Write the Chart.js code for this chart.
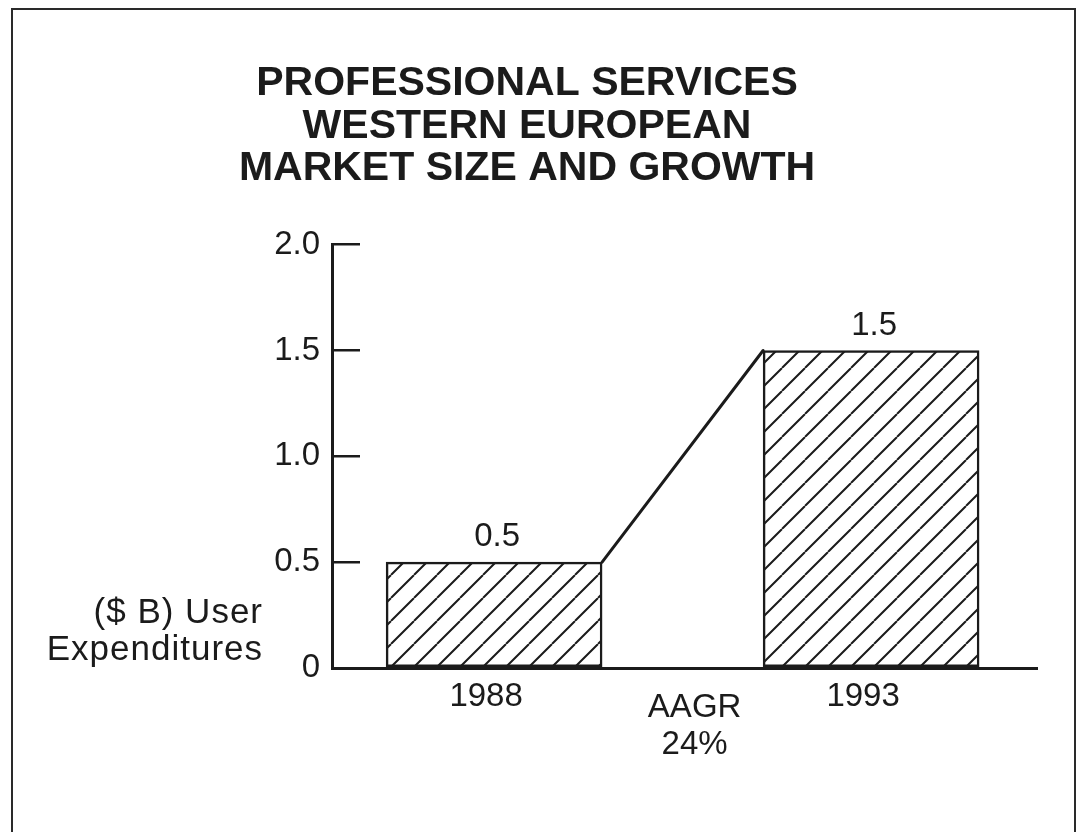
<!DOCTYPE html>
<html>
<head>
<meta charset="utf-8">
<script src="https://cdn.jsdelivr.net/npm/chart.js@4.4.1/dist/chart.umd.min.js"></script>
<style>
  html, body { margin: 0; padding: 0; background: #fff; }
  #wrap { width: 1080px; height: 832px; }
</style>
</head>
<body>
<div id="wrap"><canvas id="marketChart" width="1080" height="832"></canvas></div>
<script>
// chart data
const titleLines = ['PROFESSIONAL SERVICES', 'WESTERN EUROPEAN', 'MARKET SIZE AND GROWTH'];
const years = ['1988', '1993'];
const spendBillions = [0.5, 1.5];
const yTicks = [0, 0.5, 1.0, 1.5, 2.0];
const yAxisLabel = ['($ B) User', 'Expenditures'];
const growthLabel = ['AAGR', '24%'];

const ink = '#1b1b1b';
const fontFamily = '"Liberation Sans", Arial, Helvetica, sans-serif';

// years sit on slots 0 and 2, the growth note sits in slot 1 between them
const slotOf = i => i * 2;

// diagonal hatch fill for the bars
function makeHatch() {
	const size = 23;
	const c = document.createElement('canvas');
	c.width = size;
	c.height = size;
	const g = c.getContext('2d');
	g.fillStyle = '#ffffff';
	g.fillRect(0, 0, size, size);
	g.strokeStyle = ink;
	g.lineWidth = 2;
	g.beginPath();
	[-size, 0, size].forEach(function(o) {
		g.moveTo(o, size);
		g.lineTo(o + size, 0);
	});
	g.stroke();
	return g.createPattern(c, 'repeat');
}

// page frame
const framePlugin = {
	id: 'frame',
	beforeDraw(chart) {
		const c = chart.ctx;
		c.save();
		c.fillStyle = '#ffffff';
		c.fillRect(0, 0, chart.width, chart.height);
		c.strokeStyle = '#2a2a2a';
		c.lineWidth = 2;
		c.strokeRect(12, 9, chart.width - 17, chart.height + 20);
		c.restore();
	}
};

// line joining the top right corner of the first bar to the top left of the second
const connectorPlugin = {
	id: 'connector',
	afterDatasetsDraw(chart) {
		const bars = chart.getDatasetMeta(0).data;
		if (bars.length < 2) return;
		const a = bars[0], b = bars[1];
		const c = chart.ctx;
		c.save();
		c.strokeStyle = ink;
		c.lineWidth = 3;
		c.lineCap = 'round';
		c.beginPath();
		c.moveTo(a.x + a.width / 2, a.y);
		c.lineTo(b.x - b.width / 2, b.y);
		c.stroke();
		c.restore();
	}
};

// value labels, axis caption and growth note
const textPlugin = {
	id: 'texts',
	afterDraw(chart) {
		const c = chart.ctx;
		const x = chart.scales.x;
		const y = chart.scales.y;
		c.save();
		c.fillStyle = ink;
		c.font = '33px ' + fontFamily;
		c.textBaseline = 'middle';
		c.textAlign = 'center';
		chart.getDatasetMeta(0).data.forEach(function(bar, i) {
			c.fillText(spendBillions[i].toFixed(1), bar.x + 3, bar.y - 25);
		});
		const gx = x.getPixelForValue(1) + 12;
		c.fillText(growthLabel[0], gx, x.top + 40);
		c.fillText(growthLabel[1], gx, x.top + 77);

		c.font = '35px ' + fontFamily;
		c.letterSpacing = '1px';
		c.textAlign = 'right';
		const baseY = y.getPixelForValue(0);
		c.fillText(yAxisLabel[0], chart.chartArea.left - 69, baseY - 55);
		c.fillText(yAxisLabel[1], chart.chartArea.left - 69, baseY - 18);
		c.restore();
	}
};

document.addEventListener('DOMContentLoaded', function() {
	const ctx = document.getElementById('marketChart').getContext('2d');

	const data = {
		datasets: [{
			data: years.map((yr, i) => ({ x: slotOf(i), y: spendBillions[i] })),
			backgroundColor: makeHatch(),
			borderColor: ink,
			borderWidth: 2.5,
			borderSkipped: false,
			barThickness: 216
		}]
	};

	const tickFont = { family: fontFamily, size: 33 };

	new Chart(ctx, {
		type: 'bar',
		data: data,
		options: {
			responsive: false,
			animation: false,
			devicePixelRatio: 1,
			layout: { padding: { left: 17, right: 43, top: 0, bottom: 0 } },
			plugins: {
				legend: { display: false },
				tooltip: { enabled: false },
				title: {
					display: true,
					text: titleLines,
					color: ink,
					font: { family: fontFamily, size: 41, weight: 'bold', lineHeight: 1.03 },
					padding: { top: 63, bottom: 55 }
				}
			},
			scales: {
				x: {
					type: 'linear',
					offset: false,
					min: -0.86,
					max: 2.88,
					grid: { display: false, drawTicks: false },
					border: { color: ink, width: 3 },
					afterBuildTicks: s => { s.ticks = years.map((yr, i) => ({ value: slotOf(i) })); },
					afterFit: s => { s.height = 164; },
					ticks: {
						autoSkip: false,
						maxRotation: 0,
						padding: 9,
						labelOffset: -8,
						color: ink,
						font: tickFont,
						callback: v => years[v / 2] || ''
					}
				},
				y: {
					min: 0,
					max: 2,
					afterBuildTicks: s => { s.ticks = yTicks.map(v => ({ value: v })); },
					afterFit: s => { s.width = 315; },
					grid: {
						drawOnChartArea: false,
						drawTicks: true,
						tickLength: -28,
						color: ink,
						lineWidth: 2.5
					},
					border: { color: ink, width: 3 },
					ticks: {
						padding: 40,
						color: ink,
						font: tickFont,
						callback: v => v === 0 ? '0' : v.toFixed(1)
					}
				}
			}
		},
		plugins: [framePlugin, connectorPlugin, textPlugin]
	});
});
</script>
</body>
</html>
